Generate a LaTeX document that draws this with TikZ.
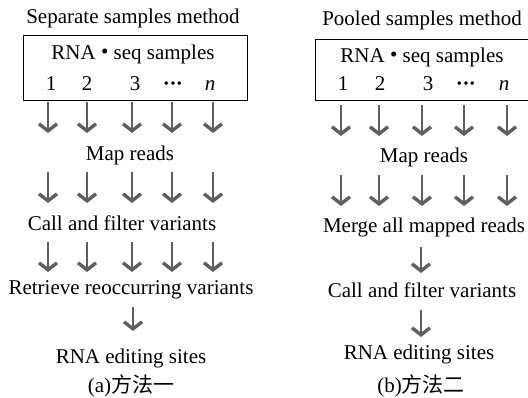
\documentclass[tikz,border=0pt]{standalone}
\usepackage{fontspec}
\setmainfont{Liberation Serif}
\newfontfamily\cjk{Noto Sans CJK SC}
\usetikzlibrary{arrows.meta}
\definecolor{arrgray}{RGB}{95,95,95}
\tikzset{
  lbl/.style={inner sep=0pt, font=\fontsize{21}{24}\selectfont, anchor=base},
  dn/.style={draw=arrgray, line width=2.8pt, -{Straight Barb[length=7pt,width=18pt,line width=3.4pt]}},
  sbox/.style={draw=black, line width=1.3pt, inner sep=0pt}
}
\newcommand{\mybul}{\raisebox{1pt}{\textbullet}}
\newcommand{\mydots}{\textbf{·\kern-0.5pt·\kern-0.5pt·}}
\begin{document}
\begin{tikzpicture}[x=1pt,y=-1pt]
\useasboundingbox (0,0) rectangle (528,397);
% ---------- left panel ----------
\node[lbl] (lt) at (133,23) {Separate samples method};
\node[sbox, minimum width=224pt, minimum height=65pt, anchor=north west] (lbox) at (23,35) {};
\node[lbl] (lrna) at (133,59) {RNA \mybul\ seq samples};
\node[lbl] (l1) at (51,90) {1};
\node[lbl] (l2) at (87,90) {2};
\node[lbl] (l3) at (135,90) {3};
\node[lbl] (l4) at (173,90) {\mydots};
\node[lbl] (l5) at (210,90) {\textit{n}};
\node[lbl] (lmap) at (130,160) {Map reads};
\node[lbl] (lcall) at (122,230) {Call and filter variants};
\node[lbl] (lret) at (131,294) {Retrieve reoccurring variants};
\node[lbl] (lsites) at (131,363) {RNA editing sites};
\node[lbl] (lcap) at (131,392) {(a)\cjk 方法一};
\foreach \i/\x in {1/48,2/87,3/132,4/172,5/213}{
  \coordinate (la\i) at (\x,102); \coordinate (lb\i) at (\x,133);
  \coordinate (lc\i) at (\x,172); \coordinate (ld\i) at (\x,203);
  \coordinate (le\i) at (\x,242); \coordinate (lf\i) at (\x,272);
  \draw[dn] (la\i) -- (lb\i);
  \draw[dn] (lc\i) -- (ld\i);
  \draw[dn] (le\i) -- (lf\i);
}
\coordinate (lg) at (133,307); \coordinate (lh) at (133,331);
\draw[dn] (lg) -- (lh);
% ---------- right panel ----------
\node[lbl] (rt) at (422,25) {Pooled samples method};
\begin{scope}
\clip (0,0) rectangle (528,397);
\node[sbox, minimum width=220pt, minimum height=61pt, anchor=north west] (rbox) at (315,39) {};
\end{scope}
\node[lbl] (rrna) at (422,62) {RNA \mybul\ seq samples};
\node[lbl] (r1) at (343,90) {1};
\node[lbl] (r2) at (380,90) {2};
\node[lbl] (r3) at (428,90) {3};
\node[lbl] (r4) at (466,90) {\mydots};
\node[lbl] (r5) at (504,90) {\textit{n}};
\node[lbl] (rmap) at (424,162) {Map reads};
\node[lbl] (rmerge) at (424,232) {Merge all mapped reads};
\node[lbl] (rcall) at (422,297) {Call and filter variants};
\node[lbl] (rsites) at (419,359) {RNA editing sites};
\node[lbl] (rcap) at (421,392) {(b)\cjk 方法二};
\foreach \i/\x in {1/341,2/379,3/422,4/464,5/507}{
  \coordinate (ra\i) at (\x,105); \coordinate (rb\i) at (\x,136);
  \coordinate (rc\i) at (\x,175); \coordinate (rd\i) at (\x,206);
  \draw[dn] (ra\i) -- (rb\i);
  \draw[dn] (rc\i) -- (rd\i);
}
\coordinate (rg) at (421,247); \coordinate (rh) at (421,273);
\draw[dn] (rg) -- (rh);
\coordinate (ri) at (421,310); \coordinate (rj) at (421,337);
\draw[dn] (ri) -- (rj);
\end{tikzpicture}
\end{document}
